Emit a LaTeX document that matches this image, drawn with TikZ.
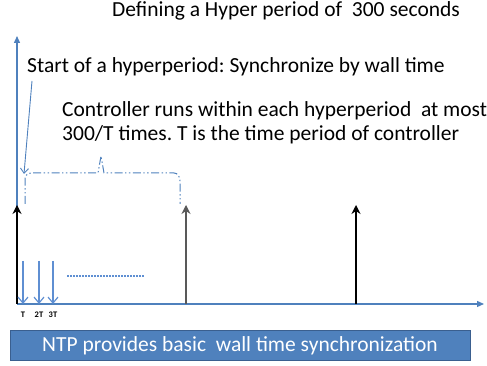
\documentclass[tikz,border=0pt]{standalone}
\usepackage{fontspec}
\setmainfont{Carlito}
\usetikzlibrary{arrows.meta}
\definecolor{axisblue}{HTML}{4F81BD}
\definecolor{tickblue}{HTML}{5F8FD2}
\definecolor{boxedge}{HTML}{3A5F8F}
\frenchspacing

\begin{document}
\begin{tikzpicture}[x=1pt, y=1pt,
    axis/.style={axisblue, line width=1.3pt, -{Triangle[length=7pt, width=6pt]}},
    sync/.style={line width=1.3pt, -{Stealth[length=9pt, width=9pt, inset=3pt]}},
    tick/.style={tickblue, line width=1.2pt, -{Straight Barb[length=6pt, width=10pt]}},
    brace/.style={axisblue, line width=1pt, dash pattern=on 8pt off 2.5pt on 1.4pt off 2.5pt on 1.4pt off 2.5pt},
    txt/.style={font=\fontsize{21.5}{26}\selectfont, inner sep=0pt, anchor=base west},
    ticklabel/.style={font=\fontsize{8.5}{9}\selectfont\bfseries, text=black, inner sep=0pt}]
    \useasboundingbox (0,0) rectangle (487,366);
    % axes
    \coordinate (origin) at (17,62);
    \coordinate (ytop) at (17,330);
    \coordinate (xend) at (484,62);
    \draw[axis] (origin) -- (ytop);
    \draw[axis] (origin) -- (xend);
    % hyperperiod boundaries
    \coordinate (h0) at (17,161);
    \coordinate (h1base) at (186,62);
    \coordinate (h1) at (186,161);
    \coordinate (h2base) at (356,62);
    \coordinate (h2) at (356,161);
    \draw[sync] (origin) -- (h0);
    \draw[sync, black!65] (h1base) -- (h1);
    \draw[sync] (h2base) -- (h2);
    % controller periods
    \coordinate (t1) at (23,105);
    \coordinate (t2) at (39,105);
    \coordinate (t3) at (53,105);
    \draw[tick] (t1) -- (t1 |- origin) node[ticklabel, below=7pt] (lt1) {T};
    \draw[tick] (t2) -- (t2 |- origin) node[ticklabel, below=7pt] (lt2) {2T};
    \draw[tick] (t3) -- (t3 |- origin) node[ticklabel, below=7pt] (lt3) {3T};
    \coordinate (dotsa) at (67,90);
    \coordinate (dotsb) at (145,90);
    \draw[tickblue, line width=1.2pt, dash pattern=on 1.5pt off 1.5pt] (dotsa) -- (dotsb);
    % brace over the first hyperperiod
    \coordinate (bl) at (25,162);
    \coordinate (br) at (180,162);
    \coordinate (tip) at (101,210);
    \draw[brace] (bl) -- (25,187) to[out=90, in=180] (31,193) -- (98,193) -- (tip)
        -- (104,193) -- (174,193) to[out=0, in=90] (180,185) -- (br);
    % texts
    \node[txt] (title) at (112,349) {Defining a Hyper period of \ 300 seconds};
    \node[txt] (start) at (27,293) {Start of a hyperperiod: Synchronize by wall time};
    \node[txt] (ctrl1) at (62,249) {Controller runs within each hyperperiod \ at most};
    \node[txt] (ctrl2) at (62,225) {300/T times. T is the time period of controller};
    \coordinate (sfrom) at (32,285);
    \coordinate (sto) at (24,192);
    \draw[axisblue, line width=0.9pt, -{Straight Barb[length=5pt, width=8pt]}] (sfrom) -- (sto);
    % NTP box
    \node[draw=boxedge, fill=axisblue, line width=1pt, minimum width=460pt, minimum height=30pt,
        text=white, font=\fontsize{21.5}{26}\selectfont, inner sep=0pt] (ntp) at (240,20) {NTP provides basic \ wall time synchronization};
\end{tikzpicture}
\end{document}
